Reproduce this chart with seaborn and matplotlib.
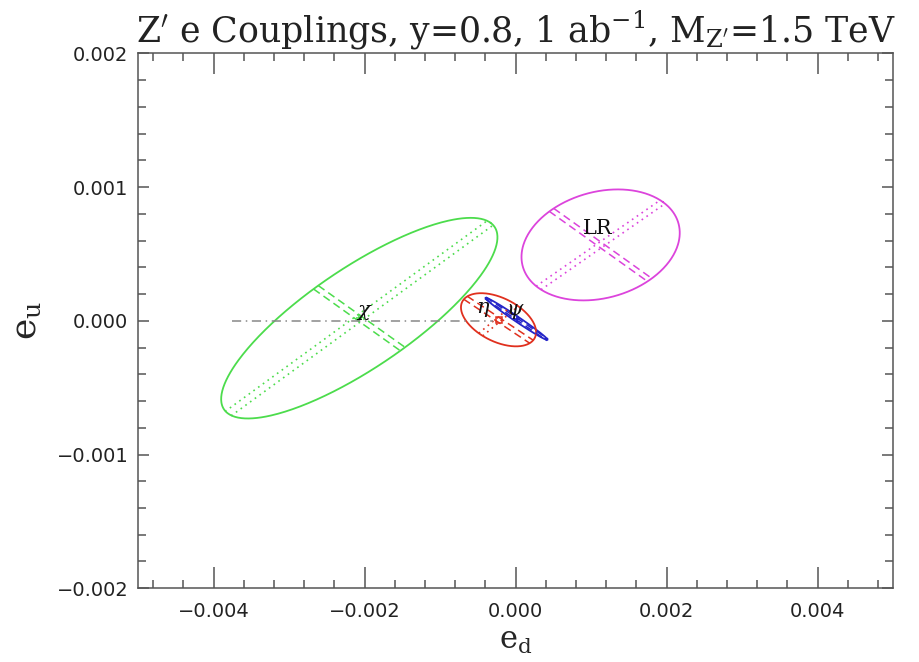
import numpy as np
import pandas as pd
import matplotlib
matplotlib.use("Agg")
import matplotlib.pyplot as plt
from matplotlib.ticker import MultipleLocator, FuncFormatter
import seaborn as sns

# ---------------- data ----------------
models = ["chi", "psi", "eta", "LR"]
model_labels = [r"$\chi$", r"$\psi$", r"$\eta$", "LR"]
center_ed = [-2.069e-3, 0.013e-3, -0.225e-3, 1.127e-3]
center_eu = [0.020e-3, 0.015e-3, 0.008e-3, 0.568e-3]
# conjugate semi-axes of each ellipse
# axis 1: lower-left -> upper-right direction (dotted guide lines)
axis1_ed = [1.737e-3, 0.0190e-3, 0.236e-3, 0.822e-3]
axis1_eu = [0.714e-3, 0.0160e-3, 0.111e-3, 0.322e-3]
# axis 2: upper-left -> lower-right direction (dashed guide lines)
axis2_ed = [0.575e-3, 0.411e-3, 0.438e-3, 0.650e-3]
axis2_eu = [-0.231e-3, -0.157e-3, -0.165e-3, -0.262e-3]
label_ed = [-2.00e-3, 0.0, -0.424e-3, 1.088e-3]
label_eu = [0.065e-3, 0.067e-3, 0.082e-3, 0.688e-3]
dashdot_ed = [-3.75e-3, -0.30e-3]
dashdot_eu = [0.0, 0.0]
x_ticks = [-0.004, -0.002, 0.0, 0.002, 0.004]
y_ticks = [-0.002, -0.001, 0.0, 0.001, 0.002]

# ---------------- style ----------------
colors = ["#4cdc4c", "#2424c8", "#e0301e", "#dc44dc"]
gap1 = [0.07, 0.05, 0.06, 0.05]     # offset of the dotted pair (fraction of axis 2)
gap2 = [0.018, 0.35, 0.10, 0.035]   # offset of the dashed pair (fraction of axis 1)
center_marker = ["+", "+", "s", None]
frame_col = "#555555"

sns.set_theme(style="ticks")
plt.rcParams["font.family"] = ["DejaVu Sans"]
plt.rcParams["mathtext.fontset"] = "dejavuserif"

fig = plt.figure(figsize=(9.2, 6.62), dpi=100)
ax = fig.add_axes([0.150, 0.1115, 0.8207, 0.8077])

t = np.linspace(0, 2 * np.pi, 400)
rows = []
for i, m in enumerate(models):
    xs = center_ed[i] + axis1_ed[i] * np.cos(t) + axis2_ed[i] * np.sin(t)
    ys = center_eu[i] + axis1_eu[i] * np.cos(t) + axis2_eu[i] * np.sin(t)
    rows.append(pd.DataFrame({"ed": xs, "eu": ys, "model": m}))
ell = pd.concat(rows, ignore_index=True)

sns.lineplot(data=ell, x="ed", y="eu", hue="model", units="model",
             palette=dict(zip(models, colors)), estimator=None, sort=False,
             lw=1.3, legend=False, ax=ax)

# guide lines inside the ellipses
for i, m in enumerate(models):
    c = colors[i]
    cx, cy = center_ed[i], center_eu[i]
    for s in (-1, 1):
        ox, oy = s * gap1[i] * axis2_ed[i], s * gap1[i] * axis2_eu[i]
        sns.lineplot(x=[cx - axis1_ed[i] + ox, cx + axis1_ed[i] + ox],
                     y=[cy - axis1_eu[i] + oy, cy + axis1_eu[i] + oy],
                     estimator=None, sort=False, color=c, lw=1.2,
                     linestyle=(0, (1, 2.5)), ax=ax)
        ox, oy = s * gap2[i] * axis1_ed[i], s * gap2[i] * axis1_eu[i]
        sns.lineplot(x=[cx - axis2_ed[i] + ox, cx + axis2_ed[i] + ox],
                     y=[cy - axis2_eu[i] + oy, cy + axis2_eu[i] + oy],
                     estimator=None, sort=False, color=c, lw=1.1,
                     linestyle=(0, (5, 3)), ax=ax)
    if center_marker[i] is not None:
        ax.plot([cx], [cy], marker=center_marker[i], color=c, ms=5,
                mfc="none", mew=1.1, ls="none")

# dash-dot reference line
sns.lineplot(x=dashdot_ed, y=dashdot_eu, estimator=None, sort=False,
             color="#888888", lw=1.1, linestyle=(0, (6, 3, 1, 3)), ax=ax)

for i in range(len(models)):
    ax.text(label_ed[i], label_eu[i], model_labels[i], ha="center", va="center",
            fontsize=15, fontfamily="DejaVu Serif", color="#111111")

ax.set_xlim(-0.005, 0.005)
ax.set_ylim(-0.002, 0.002)
ax.set_xticks(x_ticks)
ax.set_yticks(y_ticks)
ax.xaxis.set_minor_locator(MultipleLocator(0.0004))
ax.yaxis.set_minor_locator(MultipleLocator(0.0002))
fmt = FuncFormatter(lambda v, p: ("%.3f" % (0.0 if abs(v) < 1e-12 else v)).replace("-", "\u2212"))
ax.xaxis.set_major_formatter(fmt)
ax.yaxis.set_major_formatter(fmt)

ax.tick_params(which="both", direction="in", top=True, right=True,
               color=frame_col, width=1.1, labelsize=14, labelcolor="#222222")
ax.tick_params(axis="x", which="major", length=15, pad=10)
ax.tick_params(axis="y", which="major", length=8, pad=7)
ax.tick_params(which="minor", length=5.8)
for sp in ax.spines.values():
    sp.set_visible(True)
    sp.set_color(frame_col)
    sp.set_linewidth(1.1)

ax.set_xlabel(r"$\mathrm{e}_\mathrm{d}$", fontsize=22, labelpad=4)
ax.set_ylabel(r"$\mathrm{e}_\mathrm{u}$", fontsize=26, labelpad=10)
ax.set_title(r"Z$'$ e Couplings, y=0.8, 1 ab$^{-1}$, M$_{\mathrm{Z}'}$=1.5 TeV",
             fontsize=25, fontfamily="DejaVu Serif", color="#222222", pad=8)

fig.savefig("out.png", dpi=100, facecolor="white")
